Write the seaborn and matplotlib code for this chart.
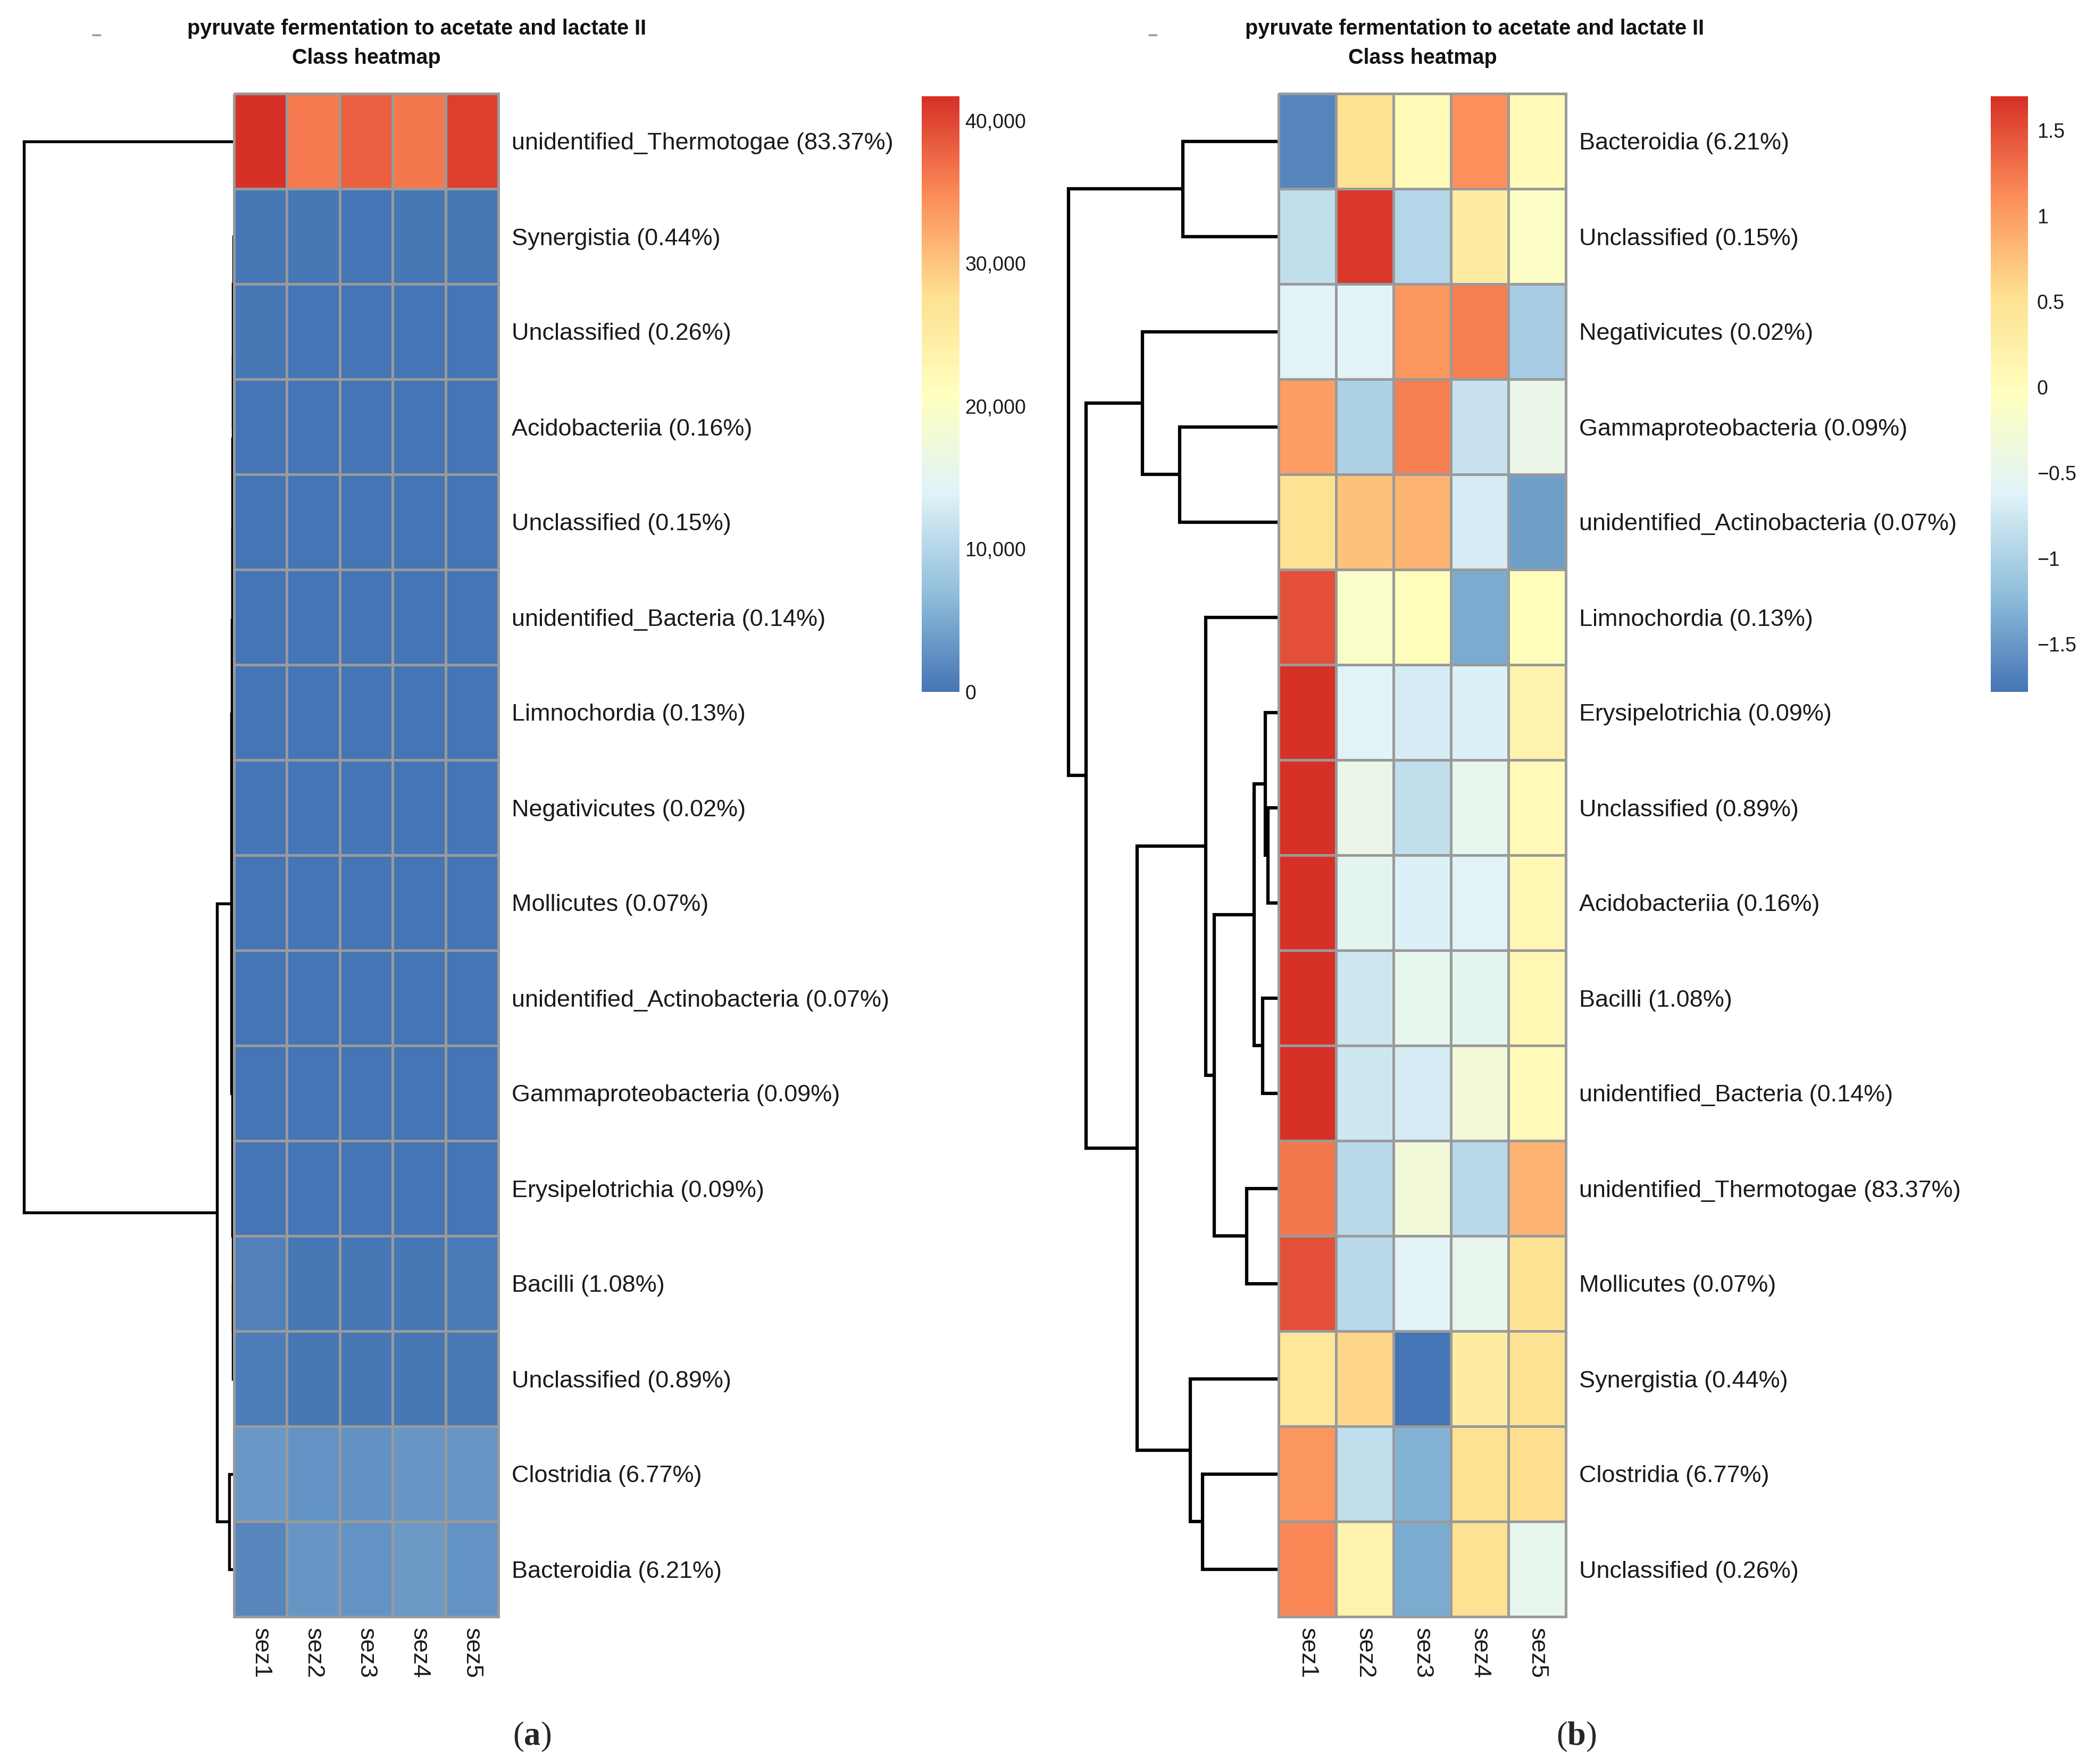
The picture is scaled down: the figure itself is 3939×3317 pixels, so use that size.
import numpy as np
import pandas as pd
import matplotlib
matplotlib.use("Agg")
import matplotlib.pyplot as plt
import seaborn as sns
from matplotlib.colors import LinearSegmentedColormap

# ---------------- data ----------------
samples = ["sez1", "sez2", "sez3", "sez4", "sez5"]

rows_a = [
    "unidentified_Thermotogae (83.37%)", "Synergistia (0.44%)", "Unclassified (0.26%)",
    "Acidobacteriia (0.16%)", "Unclassified (0.15%)", "unidentified_Bacteria (0.14%)",
    "Limnochordia (0.13%)", "Negativicutes (0.02%)", "Mollicutes (0.07%)",
    "unidentified_Actinobacteria (0.07%)", "Gammaproteobacteria (0.09%)",
    "Erysipelotrichia (0.09%)", "Bacilli (1.08%)", "Unclassified (0.89%)",
    "Clostridia (6.77%)", "Bacteroidia (6.21%)",
]
vals_a = [
    [41700, 36000, 38000, 36300, 40500],
    [232, 248, 58, 224, 240],
    [164, 126, 64, 138, 98],
    [140, 50, 46, 48, 76],
    [51, 101, 49, 74, 66],
    [123, 37, 39, 53, 65],
    [89, 56, 59, 32, 59],
    [7, 7, 13, 14, 5],
    [50, 21, 25, 26, 38],
    [40, 43, 45, 22, 10],
    [56, 26, 58, 29, 36],
    [75, 29, 27, 28, 45],
    [1170, 190, 290, 270, 530],
    [830, 290, 190, 280, 410],
    [3380, 2800, 2670, 3210, 3230],
    [1650, 3160, 2850, 3580, 2850],
]

rows_b = [
    "Bacteroidia (6.21%)", "Unclassified (0.15%)", "Negativicutes (0.02%)",
    "Gammaproteobacteria (0.09%)", "unidentified_Actinobacteria (0.07%)",
    "Limnochordia (0.13%)", "Erysipelotrichia (0.09%)", "Unclassified (0.89%)",
    "Acidobacteriia (0.16%)", "Bacilli (1.08%)", "unidentified_Bacteria (0.14%)",
    "unidentified_Thermotogae (83.37%)", "Mollicutes (0.07%)", "Synergistia (0.44%)",
    "Clostridia (6.77%)", "Unclassified (0.26%)",
]
z_b = [
    [-1.65, 0.50, 0.05, 1.10, 0.05],
    [-0.85, 1.65, -0.95, 0.30, -0.10],
    [-0.60, -0.60, 1.05, 1.20, -1.05],
    [1.00, -1.00, 1.20, -0.80, -0.45],
    [0.50, 0.75, 0.85, -0.70, -1.45],
    [1.50, -0.15, 0.00, -1.35, 0.00],
    [1.70, -0.60, -0.70, -0.65, 0.20],
    [1.70, -0.45, -0.85, -0.50, 0.05],
    [1.70, -0.55, -0.65, -0.60, 0.10],
    [1.70, -0.75, -0.50, -0.55, 0.10],
    [1.70, -0.75, -0.70, -0.30, 0.05],
    [1.25, -0.90, -0.30, -0.90, 0.85],
    [1.50, -0.90, -0.60, -0.50, 0.50],
    [0.40, 0.60, -1.78, 0.30, 0.50],
    [1.05, -0.85, -1.30, 0.50, 0.55],
    [1.15, 0.20, -1.35, 0.50, -0.50],
]

# dendrogram merges: (child, child, height); ids >= 16 refer to earlier merges
link_a = [
    (1, 2, 1.0), (16, 3, 1.5), (17, 4, 2.0), (18, 5, 2.5), (19, 6, 3.0), (20, 7, 3.5),
    (8, 9, 1.0), (10, 11, 1.0), (12, 13, 1.5), (23, 24, 2.0), (22, 25, 2.5),
    (21, 26, 5.0), (14, 15, 9.0), (27, 28, 32.0), (0, 29, 392.0),
]
link_b = [
    (0, 1, 179), (3, 4, 185), (2, 17, 255), (7, 8, 20), (6, 19, 25), (9, 10, 30),
    (20, 21, 46), (11, 12, 60), (22, 23, 120), (5, 24, 136), (14, 15, 142),
    (13, 26, 165), (25, 27, 265), (18, 28, 360), (16, 29, 393),
]

cbar_a_ticks = [0, 10000, 20000, 30000, 40000]
cbar_a_labels = ["0", "10,000", "20,000", "30,000", "40,000"]
cbar_b_ticks = [-1.5, -1, -0.5, 0, 0.5, 1, 1.5]
cbar_b_labels = ["\u22121.5", "\u22121", "\u22120.5", "0", "0.5", "1", "1.5"]

title1 = "pyruvate fermentation to acetate and lactate II"
title2 = "Class heatmap"

palette = ["#4575B4", "#91BFDB", "#E0F3F8", "#FFFFBF", "#FEE090", "#FC8D59", "#D73027"]

# ---------------- style ----------------
sns.set_style("white")
plt.rcParams["font.family"] = ["Liberation Sans", "DejaVu Sans"]
plt.rcParams["mathtext.fontset"] = "custom"
plt.rcParams["mathtext.rm"] = "Liberation Serif"
plt.rcParams["mathtext.bf"] = "Liberation Serif:bold"

cmap = LinearSegmentedColormap.from_list("pheat", palette, N=256)

W, H = 3939, 3317
fig = plt.figure(figsize=(W / 300, H / 300), dpi=300)


def box(x0, y0, x1, y1):
    return [x0 / W, 1 - y1 / H, (x1 - x0) / W, (y1 - y0) / H]


def draw_dendro(ax, links, n, lw=1.4):
    pos = {i: (0.0, i + 0.5) for i in range(n)}
    for k, (a, b, h) in enumerate(links):
        xa, ya = pos[a]
        xb, yb = pos[b]
        ax.plot([xa, h, h, xb], [ya, ya, yb, yb], color="black", lw=lw,
                solid_joinstyle="miter", solid_capstyle="butt", clip_on=False)
        pos[n + k] = (h, (ya + yb) / 2)
    ax.set_xlim(links[-1][2], 0)
    ax.set_ylim(n, 0)
    ax.axis("off")


def draw_heat(ax, cax, df, vmin, vmax, ticks, labels, cbar_pad):
    sns.heatmap(df, ax=ax, cmap=cmap, vmin=vmin, vmax=vmax, linewidths=1.2,
                linecolor="#9a9a9a", cbar_ax=cax, xticklabels=True, yticklabels=True)
    mesh = ax.collections[0]
    mesh.set_clip_on(False)
    ax.yaxis.tick_right()
    ax.tick_params(axis="y", length=0, pad=6, labelsize=10.8, labelrotation=0,
                   labelcolor="#1a1a1a")
    ax.tick_params(axis="x", length=0, pad=5, labelsize=10.8, labelcolor="#1a1a1a")
    plt.setp(ax.get_xticklabels(), rotation=270, ha="center", va="top")
    ax.set_xlabel("")
    ax.set_ylabel("")
    cb = mesh.colorbar
    cb.outline.set_visible(False)
    cb.set_ticks(ticks)
    cb.set_ticklabels(labels)
    cax.tick_params(length=0, pad=cbar_pad, labelsize=9, labelcolor="#1a1a1a")


df_a = pd.DataFrame(vals_a, index=rows_a, columns=samples)
df_b = pd.DataFrame(z_b, index=rows_b, columns=samples)

# panel a
ax_da = fig.add_axes(box(45, 176, 440, 3040))
ax_ha = fig.add_axes(box(440, 176, 937, 3040))
ax_ca = fig.add_axes(box(1733, 181, 1804, 1301))
draw_dendro(ax_da, link_a, len(rows_a), lw=1.3)
draw_heat(ax_ha, ax_ca, df_a, 0, df_a.values.max(), cbar_a_ticks, cbar_a_labels, 2.5)

# panel b
ax_db = fig.add_axes(box(2009, 176, 2404, 3040))
ax_hb = fig.add_axes(box(2404, 176, 2944, 3040))
ax_cb = fig.add_axes(box(3743, 181, 3813, 1301))
draw_dendro(ax_db, link_b, len(rows_b), lw=1.5)
draw_heat(ax_hb, ax_cb, df_b, df_b.values.min(), df_b.values.max(), cbar_b_ticks, cbar_b_labels, 4)

# titles and panel letters
for cx1, cx2, dash_x in [(784, 689, 181), (2773, 2675, 2167)]:
    fig.text(cx1 / W, 1 - 54 / H, title1, ha="center", va="center", fontsize=9.5,
             fontweight="bold", color="#111111")
    fig.text(cx2 / W, 1 - 109 / H, title2, ha="center", va="center", fontsize=9.5,
             fontweight="bold", color="#111111")
    fig.text(dash_x / W, 1 - 69 / H, "\u2212", ha="center", va="center", fontsize=8,
             fontweight="bold", color="#9a9a9a")

fig.text(1000 / W, 1 - 3266 / H, r"($\mathbf{a}$)", ha="center", va="center",
         fontsize=15, family="Liberation Serif")
fig.text(2964 / W, 1 - 3266 / H, r"($\mathbf{b}$)", ha="center", va="center",
         fontsize=15, family="Liberation Serif")

fig.savefig("out.png", dpi=300, facecolor="white")
